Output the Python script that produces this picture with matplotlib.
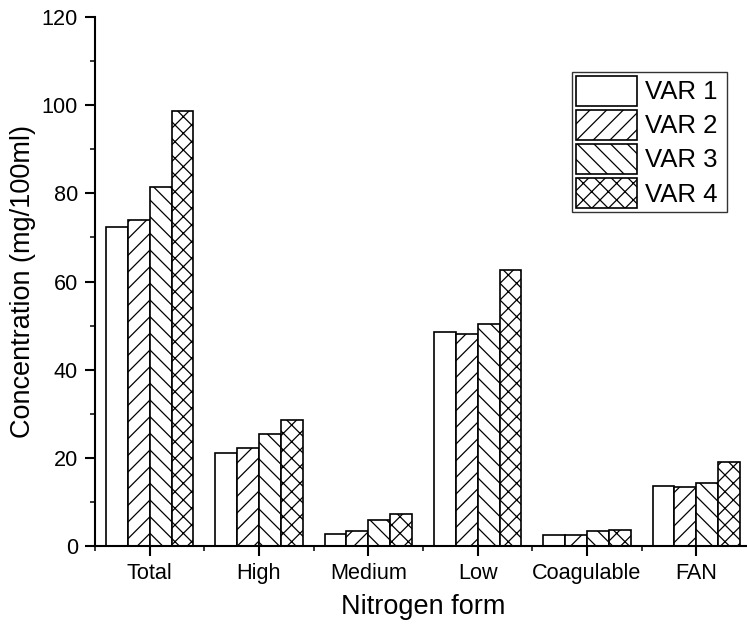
import matplotlib
matplotlib.use("Agg")
import matplotlib.pyplot as plt
import numpy as np

plt.rcParams['font.family'] = ['Liberation Sans', 'DejaVu Sans']
plt.rcParams['hatch.linewidth'] = 0.9

categories = ["Total", "High", "Medium", "Low", "Coagulable", "FAN"]
series_names = ["VAR 1", "VAR 2", "VAR 3", "VAR 4"]
var1 = [72.4, 21.2, 2.8, 48.5, 2.5, 13.7]
var2 = [73.9, 22.3, 3.5, 48.2, 2.6, 13.4]
var3 = [81.5, 25.4, 6.0, 50.4, 3.3, 14.2]
var4 = [98.6, 28.6, 7.3, 62.7, 3.6, 19.1]
series = [var1, var2, var3, var4]
hatches = ["", "//", "\\\\", "xx"]

fig = plt.figure(figsize=(7.47, 6.3), dpi=100)
ax = fig.add_axes([95/747, 84/630, (751-95)/747, (613-84)/630])

x = np.arange(len(categories))
w = 0.2
handles = []
for i, (vals, h, name) in enumerate(zip(series, hatches, series_names)):
    b = ax.bar(x + (i - 1.5) * w, vals, w, color="white", edgecolor="black",
               hatch=h, linewidth=1.2, label=name)
    handles.append(b)

ax.set_xlim(-0.5, 5.5)
ax.set_ylim(0, 120)
ax.set_xticks(x)
ax.set_xticklabels(categories)
ax.set_xticks(np.arange(-0.5, 6.0, 1.0), minor=True)
ax.set_yticks(np.arange(0, 121, 20))
ax.set_yticks(np.arange(10, 120, 20), minor=True)
ax.tick_params(axis="both", which="major", direction="out", length=7.2, width=1.5,
               labelsize=15.6, pad=5)
ax.tick_params(axis="both", which="minor", direction="out", length=3.6, width=1.1)
for s in ["top", "right"]:
    ax.spines[s].set_visible(False)
for s in ["left", "bottom"]:
    ax.spines[s].set_linewidth(1.5)

ax.set_xlabel("Nitrogen form", fontsize=19.5, labelpad=7)
ax.set_ylabel("Concentration (mg/100ml)", fontsize=19.5, labelpad=4.5)

leg_top = (630 - 72) / 630
leg = fig.legend(handles=handles, labels=series_names, loc="upper left",
                 bbox_to_anchor=(572/747, leg_top - 0.3, 155/747, 0.3),
                 mode="expand", fontsize=18.5,
                 frameon=True, fancybox=False, shadow=False, framealpha=1,
                 edgecolor="#333333", handlelength=2.38, handleheight=1.42,
                 labelspacing=0.16, handletextpad=0.34, borderpad=0.14,
                 borderaxespad=0)
leg.get_frame().set_linewidth(1.0)

fig.savefig("out.png", dpi=100)
